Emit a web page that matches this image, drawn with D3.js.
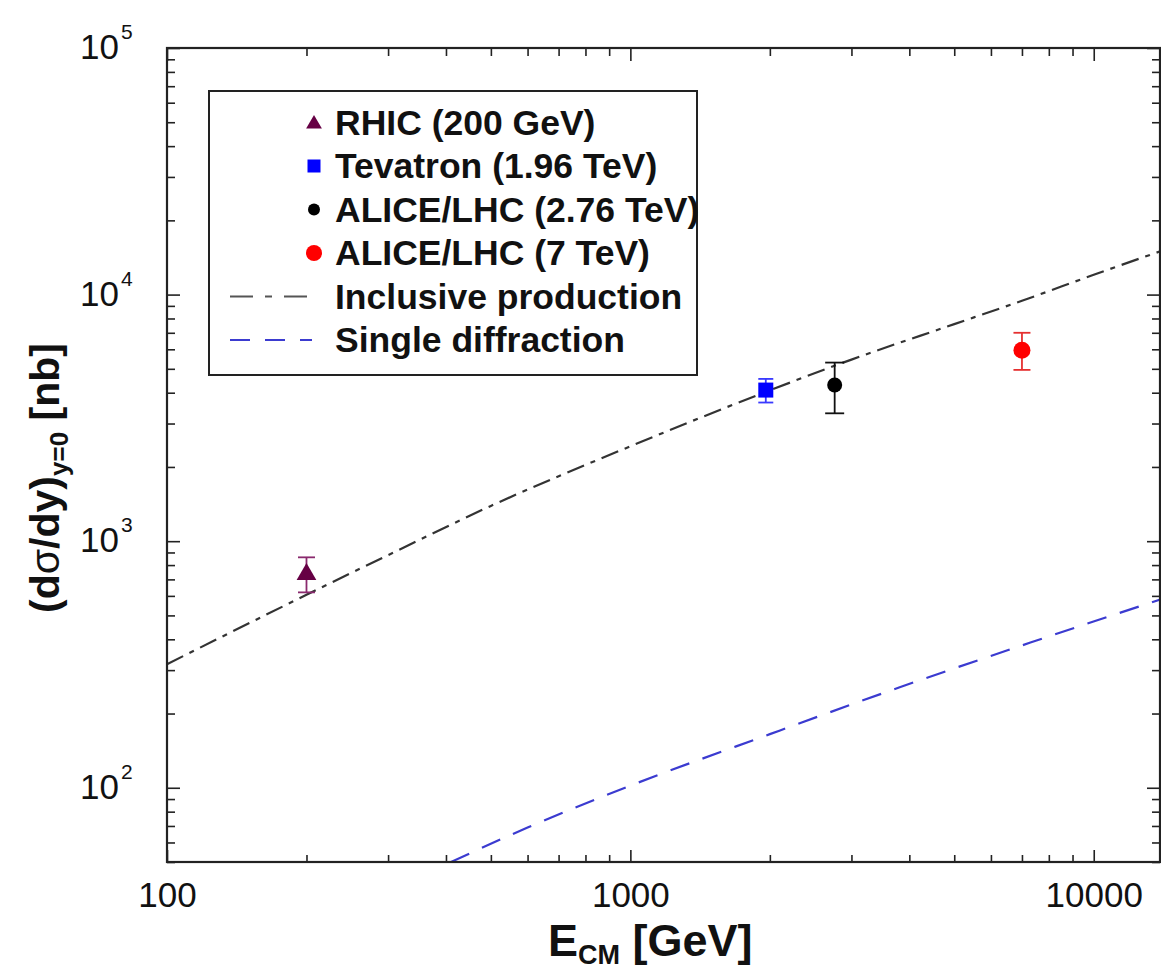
<!DOCTYPE html>
<html>
<head>
<meta charset="utf-8">
<script src="https://cdn.jsdelivr.net/npm/d3@7"></script>
<style>
  body{margin:0;background:#fff;}
  svg{display:block;font-family:"Liberation Sans",Arial,Helvetica,sans-serif;}
  .tick line{stroke:#222;stroke-width:1.6;}
</style>
</head>
<body>
<svg id="chart" width="1161" height="965"></svg>
<script>
// measured points: E_CM [GeV], dsigma/dy at y=0 [nb]
const expLabels=["RHIC (200 GeV)","Tevatron (1.96 TeV)","ALICE/LHC (2.76 TeV)","ALICE/LHC (7 TeV)"];
const expEnergy=[200,1960,2760,7000];
const expValue=[740,4100,4300,5950];
const expLow=[620,3650,3300,4950];
const expHigh=[860,4550,5300,7000];
const expShape=["triangle","square","circle","circle"];
const expColor=["#660044","#0000ff","#000000","#ff0000"];
const expBarColor=["#8a2a6e","#3a3aff","#111111","#e53030"];

// model curves
const inclE=[100,200,300,500,1000,2000,3000,5000,7000,10000,14000];
const inclV=[317,606,878,1390,2425,4090,5450,7590,9440,12030,15040];
const sdE=[410,600,1000,2000,3800,7300,14000];
const sdV=[50,69,102,165,255,388,582];

const xMajor=[100,1000,10000];
const yMajor=[100,1000,10000,100000];

const svg=d3.select("#chart");
const L=167,R=1160,T=48,B=862;

const x=d3.scaleLog().domain([100,13900]).range([L,R]);
const y=d3.scaleLog().domain([50,1e5]).range([B,T]);

svg.append("clipPath").attr("id","plotclip")
  .append("rect").attr("x",L).attr("y",T).attr("width",R-L).attr("height",B-T);

// ticks, inside on all four sides
const xMinor=x.ticks().filter(d=>!xMajor.includes(d));
const yMinor=y.ticks().filter(d=>!yMajor.includes(d));

function axisGroup(axis,tx,ty){
  const g=svg.append("g").attr("transform",`translate(${tx},${ty})`).call(axis);
  g.select(".domain").remove();
  return g;
}
axisGroup(d3.axisBottom(x).tickValues(xMinor).tickSize(-7).tickFormat(""),0,B);
axisGroup(d3.axisTop(x).tickValues(xMinor).tickSize(-8).tickFormat(""),0,T);
axisGroup(d3.axisTop(x).tickValues(xMajor).tickSize(-13).tickFormat(""),0,T);
const xb=axisGroup(d3.axisBottom(x).tickValues(xMajor).tickSize(-12).tickPadding(20).tickFormat(d3.format("d")),0,B);
xb.selectAll("text").attr("font-size",35).attr("fill","#111").attr("font-family","Liberation Sans, Arial, sans-serif");

axisGroup(d3.axisLeft(y).tickValues(yMinor).tickSize(-8).tickFormat(""),L,0);
axisGroup(d3.axisLeft(y).tickValues(yMajor).tickSize(-13).tickFormat(""),L,0);
axisGroup(d3.axisRight(y).tickValues(yMinor).tickSize(-8).tickFormat(""),R,0);
axisGroup(d3.axisRight(y).tickValues(yMajor).tickSize(-13).tickFormat(""),R,0);

// y labels as 10^n
const yl=svg.append("g").attr("fill","#111");
yMajor.forEach(v=>{
  const yy=y(v);
  yl.append("text").attr("x",119).attr("y",yy+11).attr("text-anchor","end")
    .attr("font-size",35).text("10");
  yl.append("text").attr("x",121).attr("y",yy-9).attr("font-size",21)
    .text(Math.round(Math.log10(v)));
});

// curves
const line=d3.line().x(d=>x(d[0])).y(d=>y(d[1])).curve(d3.curveMonotoneX);
const curves=svg.append("g").attr("clip-path","url(#plotclip)");
curves.append("path").datum(d3.zip(inclE,inclV)).attr("d",line)
  .attr("fill","none").attr("stroke","#333").attr("stroke-width",2.2)
  .attr("stroke-dasharray","18,7,5,7");
curves.append("path").datum(d3.zip(sdE,sdV)).attr("d",line)
  .attr("fill","none").attr("stroke","#3b3bd0").attr("stroke-width",2.2)
  .attr("stroke-dasharray","20,14");

// markers
function marker(g,shape,cx,cy,color,s){
  if(shape==="triangle"){
    g.append("path").attr("d",d3.symbol(d3.symbolTriangle,s*s*0.75)())
      .attr("transform",`translate(${cx},${cy+1})`).attr("fill",color);
  }else if(shape==="square"){
    g.append("rect").attr("x",cx-s/2).attr("y",cy-s/2).attr("width",s).attr("height",s).attr("fill",color);
  }else{
    g.append("circle").attr("cx",cx).attr("cy",cy).attr("r",s/2).attr("fill",color);
  }
}

const pts=svg.append("g");
const markSize=[15,15,15,17];
const capW=[17,15,19,17];
expEnergy.forEach((e,i)=>{
  const cx=x(e);
  const g=pts.append("g").attr("stroke-width",1.8);
  g.append("line").attr("x1",cx).attr("x2",cx).attr("y1",y(expLow[i])).attr("y2",y(expHigh[i]))
    .attr("stroke",expBarColor[i]);
  [expLow[i],expHigh[i]].forEach(v=>{
    g.append("line").attr("x1",cx-capW[i]/2).attr("x2",cx+capW[i]/2).attr("y1",y(v)).attr("y2",y(v))
      .attr("stroke",expBarColor[i]);
  });
  marker(g,expShape[i],cx,y(expValue[i]),expColor[i],markSize[i]);
});

// frame
svg.append("rect").attr("x",L).attr("y",T).attr("width",R-L).attr("height",B-T)
  .attr("fill","none").attr("stroke","#222").attr("stroke-width",2.2);

// legend
const leg=svg.append("g");
leg.append("rect").attr("x",209).attr("y",91).attr("width",488).attr("height",284)
  .attr("fill","#fff").attr("stroke","#222").attr("stroke-width",2);
const rowY=[135,178,221.5,265,308.5,352];
const legSize=[12,13,12,16];
expLabels.forEach((t,i)=>{
  marker(leg,expShape[i],314,rowY[i]-12,expColor[i],legSize[i]);
  leg.append("text").attr("x",335).attr("y",rowY[i]).attr("font-size",35.5)
    .attr("font-weight","bold").attr("fill","#111").text(t);
});
const lineLabels=["Inclusive production","Single diffraction"];
const lineColor=["#555","#3b3bd0"];
const lineDash=["23,12,7,12","20,15"];
lineLabels.forEach((t,i)=>{
  const yy=rowY[4+i]-12;
  leg.append("line").attr("x1",230).attr("x2",312).attr("y1",yy).attr("y2",yy)
    .attr("stroke",lineColor[i]).attr("stroke-width",2).attr("stroke-dasharray",lineDash[i]);
  leg.append("text").attr("x",335).attr("y",rowY[4+i]).attr("font-size",35.5)
    .attr("font-weight","bold").attr("fill","#111").text(t);
});

// axis titles
const xt=svg.append("text").attr("x",548).attr("y",956).attr("font-size",45)
  .attr("font-weight","bold").attr("fill","#111");
xt.append("tspan").text("E");
xt.append("tspan").attr("font-size",27).attr("dy",8).text("CM");
xt.append("tspan").attr("dy",-8).text(" [GeV]");

const yt=svg.append("text").attr("transform","translate(59,478) rotate(-90)")
  .attr("text-anchor","middle").attr("font-size",41).attr("font-weight","bold").attr("fill","#111");
yt.append("tspan").text("(d");
yt.append("tspan").attr("font-weight","normal").text("σ");
yt.append("tspan").text("/dy)");
yt.append("tspan").attr("font-size",26).attr("dy",9).text("y=0");
yt.append("tspan").attr("dy",-9).text(" [nb]");
</script>
</body>
</html>
